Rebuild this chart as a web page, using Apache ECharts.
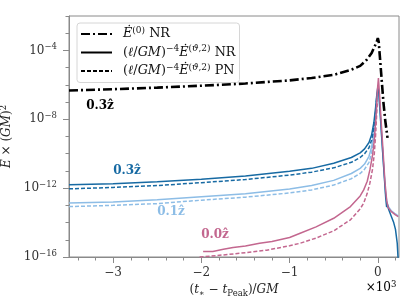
<!DOCTYPE html>
<html><head><meta charset="utf-8">
<script src="https://cdn.jsdelivr.net/npm/echarts@6/dist/echarts.min.js"></script>
<style>html,body{margin:0;padding:0;background:#fff}#c{width:415px;height:306px}</style>
</head><body><div id="c"></div>
<script>
// tick values
const xMajorTicks = [-3, -2, -1, 0];
const yMajorTicks = [1e-16, 1e-12, 1e-8, 1e-4];
const yMinorTicks = [1e-15, 1e-14, 1e-13, 1e-11, 1e-10, 1e-9, 1e-7, 1e-6, 1e-5, 1e-3, 1e-2];

// time in units of 10^3 GM, values of E-dot x (GM)^2
const e0NR = [[-3.5,4.7e-7],[-3.0,5.6e-7],[-2.5,6.9e-7],[-2.0,8.9e-7],[-1.5,1.2e-6],[-1.0,1.82e-6],[-0.75,2.5e-6],[-0.5,3.8e-6],[-0.3,7.6e-6],[-0.2,1.26e-5],[-0.125,2.9e-5],[-0.07,7.1e-5],[-0.03,2.0e-4],[-0.01,3.55e-4],[0.0,5.25e-4],[0.01,3.16e-4],[0.026,2.9e-5],[0.045,1.58e-6],[0.064,9.1e-8],[0.085,7.9e-9],[0.11,8.3e-10]];

const nr03 = [[-3.5,1.55e-12],[-3.0,1.82e-12],[-2.5,2.34e-12],[-2.0,3.31e-12],[-1.5,5.0e-12],[-1.0,9.5e-12],[-0.75,1.41e-11],[-0.5,2.82e-11],[-0.3,6.0e-11],[-0.2,1.12e-10],[-0.15,1.9e-10],[-0.1,4.5e-10],[-0.07,1.26e-9],[-0.045,6.3e-9],[-0.025,5.0e-8],[-0.01,3.2e-7],[0.0,7.1e-7],[0.012,3.2e-7],[0.03,1.26e-8],[0.06,5.0e-11],[0.09,2.5e-13],[0.1,7.9e-14],[0.106,1.41e-13],[0.12,6.3e-14],[0.15,2.5e-14],[0.18,1.0e-14],[0.2,4.0e-15],[0.22,6.3e-16],[0.232,5e-17]];
const pn03 = [[-3.5,9.1e-13],[-3.0,1.1e-12],[-2.5,1.41e-12],[-2.0,2.09e-12],[-1.5,3.16e-12],[-1.0,5.75e-12],[-0.75,8.5e-12],[-0.5,1.51e-11],[-0.3,3.16e-11],[-0.2,6.0e-11],[-0.15,1.0e-10],[-0.1,2.24e-10],[-0.07,6.3e-10],[-0.045,3.16e-9],[-0.025,2.5e-8],[-0.012,2.0e-7]];

const nr01 = [[-3.5,1.35e-13],[-3.0,1.58e-13],[-2.5,2.09e-13],[-2.0,3.16e-13],[-1.5,4.8e-13],[-1.0,8.9e-13],[-0.75,1.41e-12],[-0.5,2.82e-12],[-0.3,7.1e-12],[-0.2,1.41e-11],[-0.15,2.5e-11],[-0.1,7.1e-11],[-0.07,2.5e-10],[-0.045,1.58e-9],[-0.025,1.58e-8],[-0.01,1.58e-7],[0.0,4.5e-7],[0.012,2.5e-7],[0.03,1.0e-8],[0.06,5.0e-11],[0.09,4.0e-13],[0.11,1.0e-13],[0.15,5.0e-14],[0.2,3.16e-14],[0.232,2.4e-14]];
const pn01 = [[-3.5,8.5e-14],[-3.0,1.0e-13],[-2.5,1.26e-13],[-2.0,2.0e-13],[-1.5,3.0e-13],[-1.0,5.25e-13],[-0.75,7.9e-13],[-0.5,1.51e-12],[-0.3,3.55e-12],[-0.2,7.1e-12],[-0.15,1.26e-11],[-0.1,3.16e-11],[-0.07,1.12e-10],[-0.045,7.9e-10],[-0.025,7.9e-9],[-0.012,6.3e-8]];

const nr00 = [[-1.98,2.1e-16],[-1.87,2.1e-16],[-1.75,2.8e-16],[-1.64,3.55e-16],[-1.5,4.3e-16],[-1.34,6.3e-16],[-1.2,7.9e-16],[-1.0,1.35e-15],[-0.88,2.4e-15],[-0.7,5.6e-15],[-0.5,1.78e-14],[-0.31,8.5e-14],[-0.2,3.55e-13],[-0.16,7.9e-13],[-0.12,2.5e-12],[-0.09,1.15e-11],[-0.06,7.9e-11],[-0.04,6.3e-10],[-0.02,1.58e-8],[-0.005,5.0e-7],[0.007,2.5e-6],[0.02,2.5e-7],[0.04,5.0e-9],[0.06,1.26e-10],[0.08,2.5e-12],[0.1,2.0e-13],[0.115,7.9e-14],[0.15,4.5e-14],[0.2,2.8e-14],[0.232,2.24e-14]];
const pn00 = [[-2.02,1.0e-16],[-1.9,1.12e-16],[-1.75,1.32e-16],[-1.5,1.78e-16],[-1.26,2.5e-16],[-1.0,4.5e-16],[-0.88,6.3e-16],[-0.7,1.26e-15],[-0.5,3.3e-15],[-0.31,1.45e-14],[-0.2,6.3e-14],[-0.16,1.35e-13],[-0.12,5.0e-13],[-0.09,1.95e-12],[-0.06,1.26e-11],[-0.04,1.0e-10],[-0.025,1.26e-9],[-0.012,2.5e-8],[-0.004,1.26e-7]];

const legendNames = ['E0NR', 'NR', 'PN'];

const C_DARK = '#176aa3', C_LIGHT = '#8dbde6', C_PINK = '#c3678f', AX = '#8a8a8a';
const SERIF = '"DejaVu Serif", "Liberation Serif", serif';
const FS = 12, SS = 8.5;

function mkRich(color, fs, ss) {
  fs = fs || FS; ss = ss || SS;
  return {
    n: {fontFamily: SERIF, fontSize: fs, lineHeight: 16, color},
    i: {fontFamily: SERIF, fontSize: fs, lineHeight: 16, fontStyle: 'italic', color},
    s: {fontFamily: SERIF, fontSize: ss, lineHeight: 6, verticalAlign: 'top', color},
    si: {fontFamily: SERIF, fontSize: ss, lineHeight: 6, verticalAlign: 'top', fontStyle: 'italic', color},
    b: {fontFamily: SERIF, fontSize: ss, lineHeight: 10, verticalAlign: 'bottom', color},
    bi: {fontFamily: SERIF, fontSize: ss, lineHeight: 10, verticalAlign: 'bottom', fontStyle: 'italic', color}
  };
}

const legendText = {
  E0NR: '{i|Ė}{s|(0)}{n| NR}',
  NR: '{n|(}{i|ℓ}{n|/}{i|GM}{n|)}{s|−4}{i|Ė}{s|(}{si|ϑ}{s|,2)}{n| NR}',
  PN: '{n|(}{i|ℓ}{n|/}{i|GM}{n|)}{s|−4}{i|Ė}{s|(}{si|ϑ}{s|,2)}{n| PN}'
};

function line(name, data, color, width, type, z) {
  return {name, type: 'line', data, symbol: 'none', showSymbol: false, clip: true, z: z || 2,
    lineStyle: {color, width, type}, itemStyle: {color}, emphasis: {disabled: true}};
}

const chart = echarts.init(document.getElementById('c'));
chart.setOption({
  animation: false,
  backgroundColor: '#fff',
  grid: {left: 69, right: 16, top: 16, bottom: 49, containLabel: false, outerBoundsMode: 'none',
    show: true, borderColor: AX, borderWidth: 1, backgroundColor: 'transparent'},
  legend: {
    data: legendNames, orient: 'vertical', left: 77, top: 23, padding: [3, 4, 5, 3],
    itemWidth: 31, itemHeight: 14, itemGap: 4, selectedMode: false,
    itemStyle: {color: 'transparent', borderColor: 'transparent', borderWidth: 0, opacity: 0},
    backgroundColor: 'rgba(255,255,255,0.85)', borderColor: '#d6d6d6', borderWidth: 1, borderRadius: 3,
    formatter: n => legendText[n],
    textStyle: {rich: mkRich('#111', 12.8, 9), padding: [0, 0, 0, 6]}
  },
  xAxis: {
    type: 'value', min: -3.5, max: 0.24,
    axisLine: {show: true, onZero: false, lineStyle: {color: AX, width: 1}},
    axisTick: {show: true, customValues: xMajorTicks, length: 6, lineStyle: {color: AX}},
    minorTick: {show: true, splitNumber: 5, length: 3.5, lineStyle: {color: AX}},
    axisLabel: {customValues: xMajorTicks, margin: 10, fontFamily: SERIF, fontSize: FS, color: '#333',
      formatter: v => (v < 0 ? '−' + Math.abs(v) : String(v))},
    splitLine: {show: false}, minorSplitLine: {show: false},
    name: '{n|(}{i|t}{b|∗}{n| − }{i|t}{b|Peak}{n|)/}{i|GM}', nameLocation: 'middle', nameGap: 24,
    nameTextStyle: {rich: mkRich('#222')}
  },
  yAxis: [{
    type: 'log', logBase: 10, min: 1e-16, max: 1e-2,
    axisLine: {show: true, onZero: false, lineStyle: {color: AX, width: 1}},
    axisTick: {show: true, customValues: yMajorTicks, length: 6, lineStyle: {color: AX}},
    axisLabel: {customValues: yMajorTicks, margin: 12, color: '#333',
      formatter: v => '{n|10}{s|−' + Math.abs(Math.round(Math.log10(v))) + '}',
      rich: mkRich('#333')},
    splitLine: {show: false},
    name: '{i|Ė}{n| × (}{i|GM}{n|)}{s|2}', nameLocation: 'middle', nameGap: 46, nameRotate: 90,
    nameTextStyle: {rich: mkRich('#222')}
  }, {
    type: 'log', logBase: 10, min: 1e-16, max: 1e-2, position: 'left',
    axisLine: {show: false, onZero: false},
    axisTick: {show: true, customValues: yMinorTicks, length: 3.5, lineStyle: {color: AX}},
    axisLabel: {show: false}, splitLine: {show: false}
  }],
  series: [
    line('l01pn', pn01, C_LIGHT, 1.5, [4, 2], 2),
    line('l01nr', nr01, C_LIGHT, 1.5, 'solid', 2),
    line('l03pn', pn03, C_DARK, 1.5, [4, 2], 3),
    line('l03nr', nr03, C_DARK, 1.5, 'solid', 3),
    line('l00pn', pn00, C_PINK, 1.5, [4, 2], 4),
    line('l00nr', nr00, C_PINK, 1.5, 'solid', 4),
    line('E0NR', e0NR, '#000', 2.6, [9, 3, 2, 3], 5),
    line('NR', [], '#000', 1.5, 'solid', 1),
    line('PN', [], '#000', 1.5, [4, 2], 1)
  ],
  graphic: [
    {type: 'text', x: 100, y: 106, style: {text: '0.3ẑ', font: 'bold 12px ' + SERIF, fill: '#000', textAlign: 'center', textVerticalAlign: 'middle'}},
    {type: 'text', x: 127, y: 171, style: {text: '0.3ẑ', font: 'bold 12px ' + SERIF, fill: C_DARK, textAlign: 'center', textVerticalAlign: 'middle'}},
    {type: 'text', x: 171, y: 212, style: {text: '0.1ẑ', font: 'bold 12px ' + SERIF, fill: C_LIGHT, textAlign: 'center', textVerticalAlign: 'middle'}},
    {type: 'text', x: 215, y: 235, style: {text: '0.0ẑ', font: 'bold 12px ' + SERIF, fill: C_PINK, textAlign: 'center', textVerticalAlign: 'middle'}},
    {type: 'text', x: 381, y: 288, style: {text: '{n|×10}{s|3}', textAlign: 'center', textVerticalAlign: 'middle',
      rich: mkRich('#333')}}
  ]
});
</script></body></html>
